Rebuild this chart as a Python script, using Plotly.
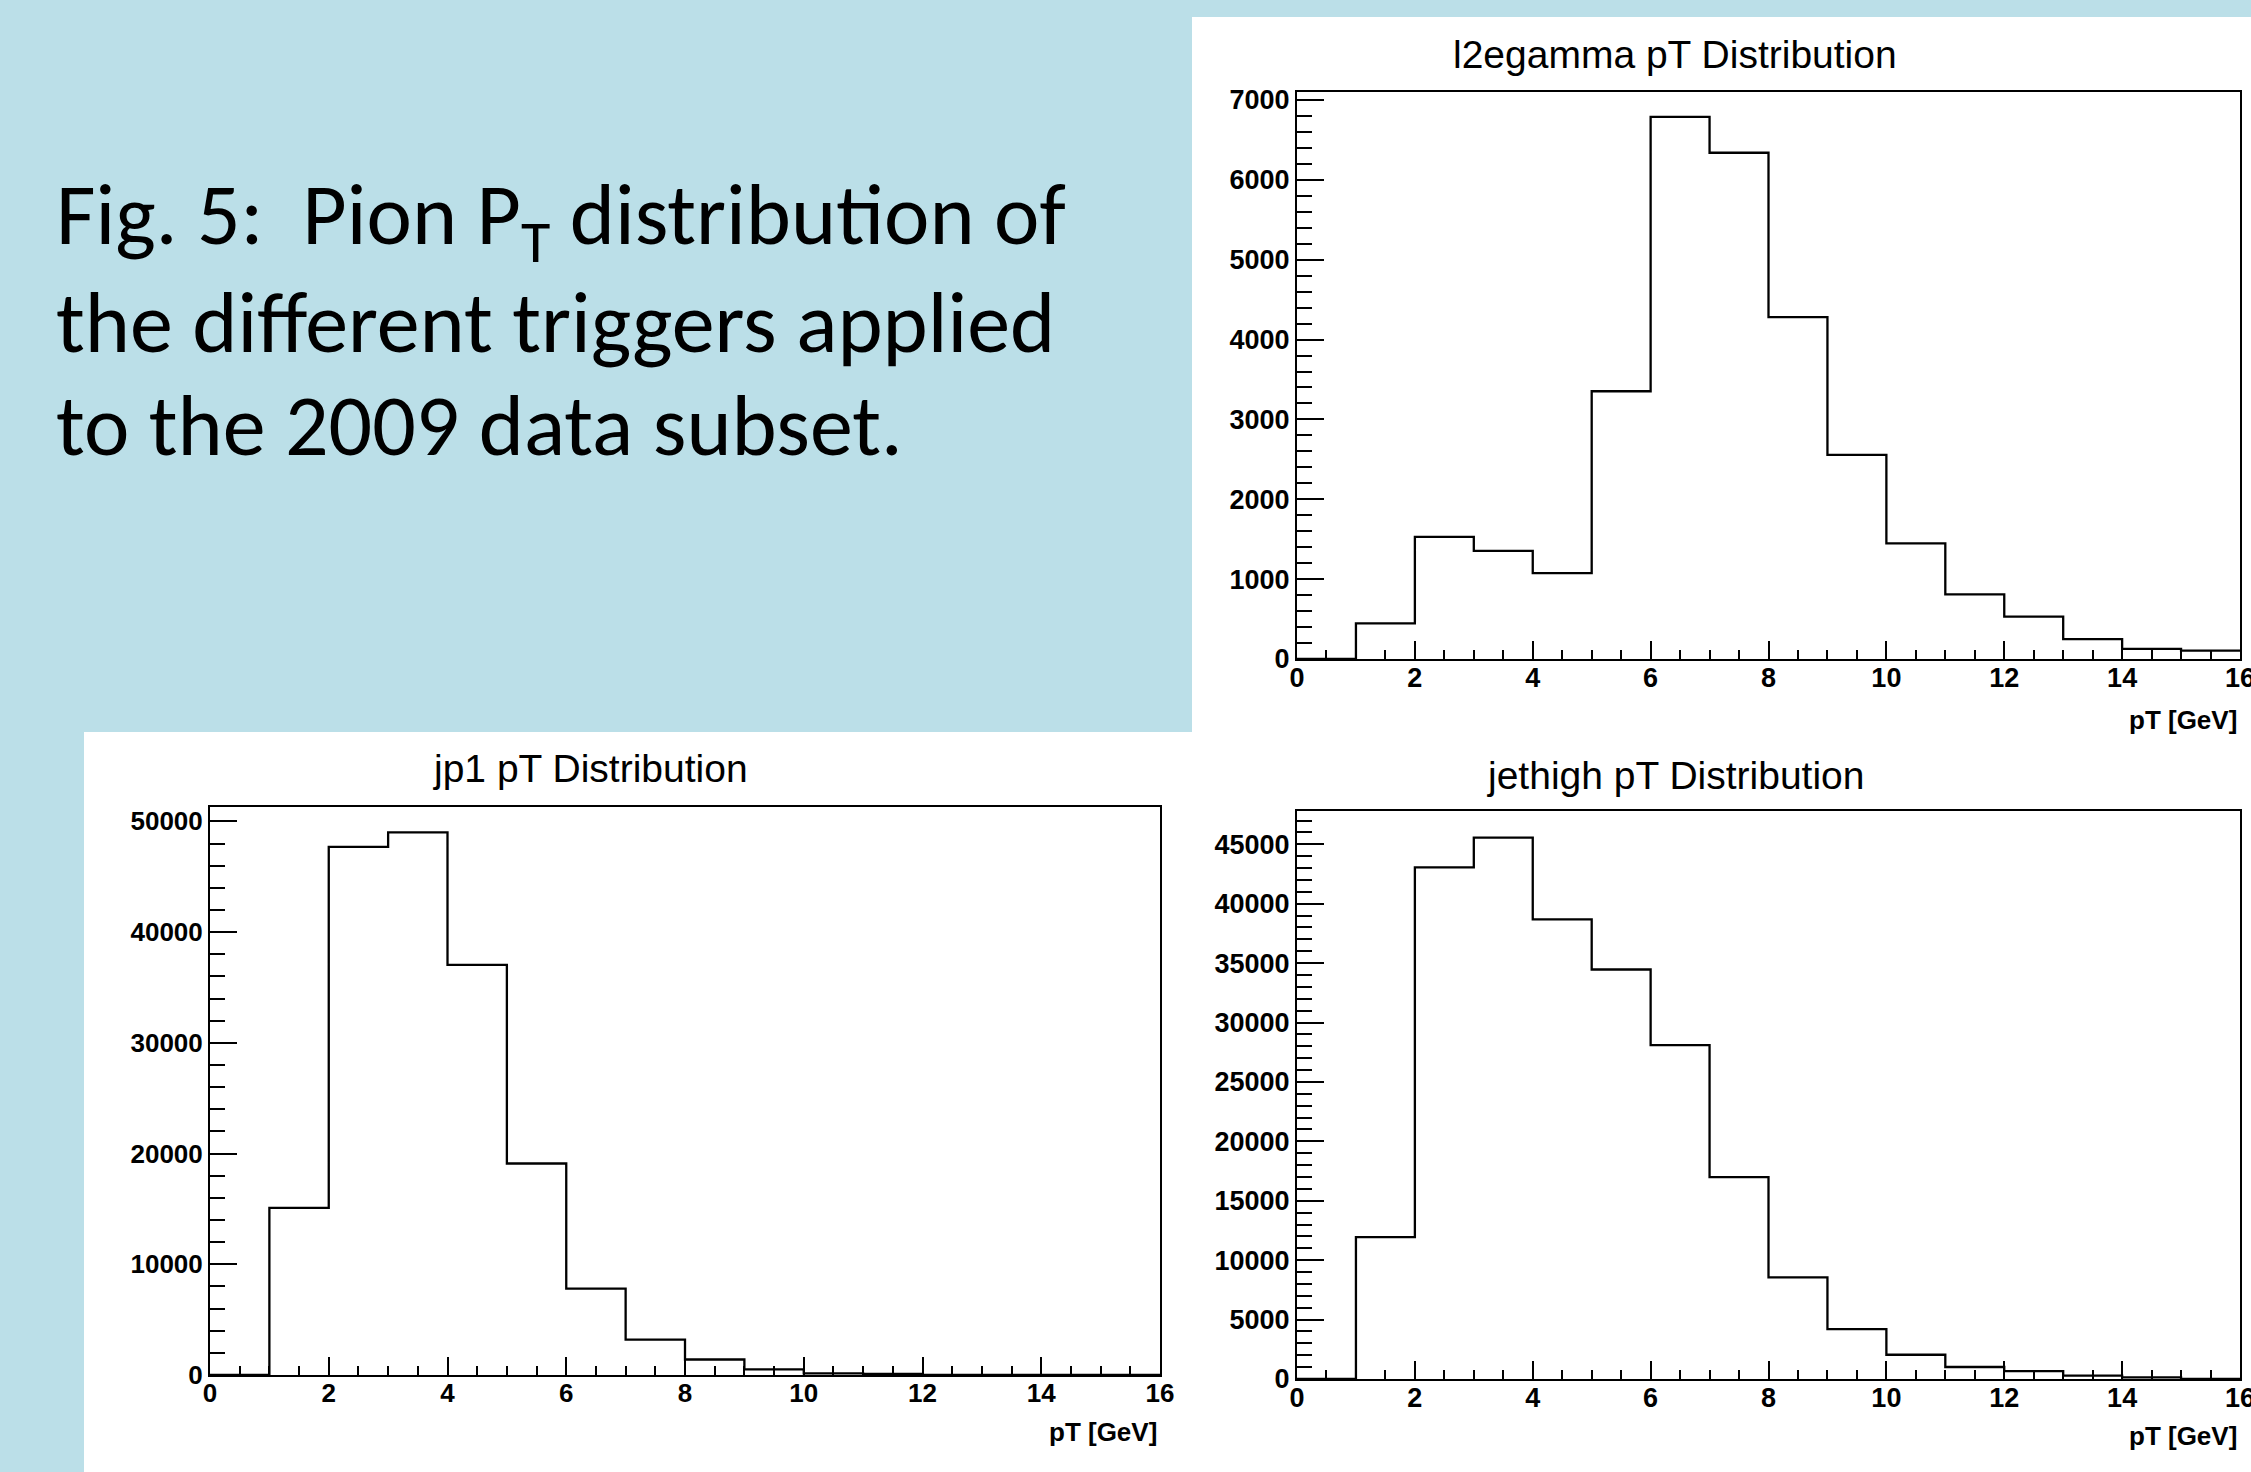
import plotly.graph_objects as go

W, H = 2251, 1472

# ---- data ----
pt_bin_edges = list(range(17))
l2egamma_counts = [0, 445, 1530, 1354, 1076, 3353, 6789, 6339, 4281, 2555, 1449, 810, 530, 250, 128, 105]
jp1_counts = [0, 15100, 47700, 49000, 37050, 19100, 7800, 3200, 1400, 500, 150, 100, 0, 0, 0, 0]
jethigh_counts = [0, 11940, 43050, 45560, 38680, 34460, 28090, 16990, 8560, 4200, 2040, 1010, 670, 280, 140, 0]

titles = ["l2egamma pT Distribution", "jp1 pT Distribution", "jethigh pT Distribution"]
x_title = "pT [GeV]"
caption_lines = ["Fig. 5:  Pion P<sub>T</sub> distribution of",
                 "the different triggers applied",
                 "to the 2009 data subset."]

BLUE = "#BBDFE8"

def px(x):
    return x / W

def py(y):
    return 1 - y / H

fig = go.Figure()

panels = [
    dict(counts=l2egamma_counts, xa="x", ya="y", xd=(1297, 2240), yd=(92, 659), ymax=7100,
         dt=1000, mdt=200, tx=1675, ty=55, lx=2239, ly=703, fs=27),
    dict(counts=jp1_counts, xa="x2", ya="y2", xd=(210, 1160), yd=(807, 1375), ymax=51300,
         dt=10000, mdt=2000, tx=590, ty=768, lx=1159, ly=1415, fs=26),
    dict(counts=jethigh_counts, xa="x3", ya="y3", xd=(1297, 2240), yd=(811, 1379), ymax=47800,
         dt=5000, mdt=1000, tx=1675, ty=775, lx=2239, ly=1419, fs=27),
]

for i, p in enumerate(panels):
    xs = pt_bin_edges
    ys = p["counts"] + [p["counts"][-1]]
    fig.add_trace(go.Scatter(x=xs, y=ys, mode="lines", line_shape="hv",
                             line=dict(color="black", width=2.3),
                             xaxis=p["xa"], yaxis=p["ya"], showlegend=False,
                             hoverinfo="skip"))
    sfx = "" if i == 0 else str(i + 1)
    tickfont = dict(family="Liberation Sans, Arial, sans-serif", size=p["fs"], color="black", weight="bold")
    fig.layout["xaxis" + sfx] = dict(
        domain=[px(p["xd"][0]), px(p["xd"][1])], anchor="y" + sfx,
        range=[0, 16], dtick=2, tick0=0, showgrid=False, zeroline=False,
        showline=True, linecolor="black", linewidth=2, mirror=True,
        ticks="inside", ticklen=18, tickwidth=2, tickcolor="black",
        minor=dict(ticks="inside", ticklen=9, tickwidth=2, tickcolor="black", dtick=0.5, showgrid=False),
        tickfont=tickfont, ticklabelstandoff=-6, ticklabeloverflow="allow",
        fixedrange=True, automargin=False,
    )
    fig.layout["yaxis" + sfx] = dict(
        domain=[py(p["yd"][1]), py(p["yd"][0])], anchor="x" + sfx,
        range=[0, p["ymax"]], dtick=p["dt"], tick0=0, showgrid=False, zeroline=False,
        showline=True, linecolor="black", linewidth=2, mirror=True,
        ticks="inside", ticklen=27, tickwidth=2, tickcolor="black",
        minor=dict(ticks="inside", ticklen=15, tickwidth=2, tickcolor="black", dtick=p["mdt"], showgrid=False),
        tickfont=tickfont, tickformat="d", ticklabeloverflow="allow",
        fixedrange=True, automargin=False,
    )
    fig.add_annotation(text=titles[i], x=px(p["tx"]), y=py(p["ty"]), xref="paper", yref="paper",
                       xanchor="center", yanchor="middle", showarrow=False,
                       font=dict(family="Liberation Sans, Arial, sans-serif", size=39, color="black"))
    fig.add_annotation(text=x_title, x=px(p["lx"]), y=py(p["ly"]), xref="paper", yref="paper",
                       xanchor="right", yanchor="top", showarrow=False,
                       font=dict(family="Liberation Sans, Arial, sans-serif", size=26, color="black", weight="bold"))

# caption text
cap_y = [220, 322, 425]
for line, yy in zip(caption_lines, cap_y):
    fig.add_annotation(text=line, x=px(54), y=py(yy), xref="paper", yref="paper",
                       xanchor="left", yanchor="middle", showarrow=False,
                       font=dict(family="Carlito, Lato, sans-serif", size=86, color="black"))

# white panels behind the plots
fig.add_shape(type="rect", xref="paper", yref="paper", x0=px(1192), x1=1.0, y0=0.0, y1=py(17),
              fillcolor="white", line=dict(width=0), layer="below")
fig.add_shape(type="rect", xref="paper", yref="paper", x0=px(84), x1=px(1195), y0=0.0, y1=py(732),
              fillcolor="white", line=dict(width=0), layer="below")

fig.update_layout(width=W, height=H, autosize=False, margin=dict(l=0, r=0, t=0, b=0, pad=0),
                  paper_bgcolor=BLUE, plot_bgcolor="rgba(0,0,0,0)")

fig.write_html("out.html", config={"displayModeBar": False, "responsive": False},
               post_script="document.documentElement.style.margin='0';document.documentElement.style.overflow='hidden';"
                           "document.body.style.margin='0';document.body.style.padding='0';"
                           "document.body.style.overflow='hidden';")
